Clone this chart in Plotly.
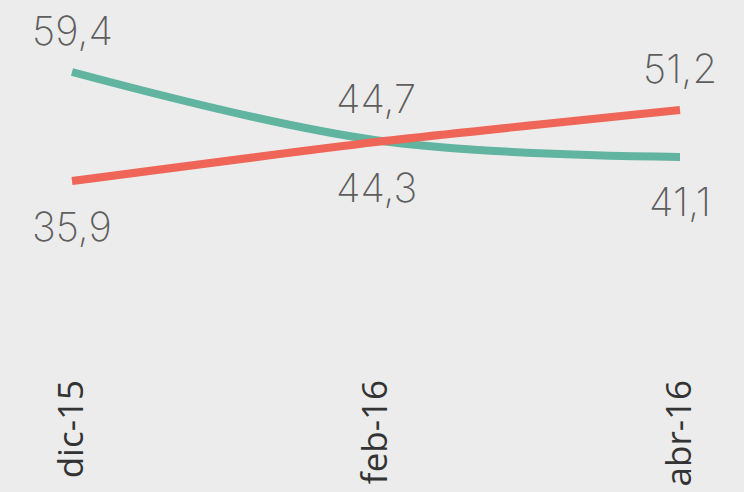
import plotly.graph_objects as go

months = ["dic-15", "feb-16", "abr-16"]
green_vals = [59.4, 44.7, 41.1]
red_vals = [35.9, 44.3, 51.2]
green_labels = ["59,4", "44,7", "41,1"]
red_labels = ["35,9", "44,3", "51,2"]

GREEN = "#60b4a0"
RED = "#ef6558"
BG = "#ececec"

fig = go.Figure()
fig.add_trace(go.Scatter(
    x=[0, 1, 2], y=green_vals, mode="lines",
    line=dict(color=GREEN, width=8, shape="spline", smoothing=1),
    hoverinfo="skip",
))
fig.add_trace(go.Scatter(
    x=[0, 1, 2], y=red_vals, mode="lines",
    line=dict(color=RED, width=8, shape="spline", smoothing=0.6),
    hoverinfo="skip",
))

# label above whichever series is higher at each month
for i in range(len(months)):
    for val, lab, other in ((green_vals[i], green_labels[i], red_vals[i]),
                            (red_vals[i], red_labels[i], green_vals[i])):
        above = val > other
        fig.add_annotation(
            x=i, y=val, text=lab, showarrow=False,
            yshift=42 if above else -45,
            font=dict(family="Inter", size=40, color="#5e5e5e", weight=200),
        )

fig.update_layout(
    width=744, height=492,
    paper_bgcolor=BG, plot_bgcolor=BG,
    margin=dict(l=0, r=0, t=0, b=120),
    showlegend=False,
    xaxis=dict(
        range=[-72 / 304, 2 + 64 / 304],
        tickmode="array", tickvals=[0, 1, 2], ticktext=months,
        tickangle=-90, showgrid=False, zeroline=False, showline=False,
        tickfont=dict(family="Open Sans", size=35, color="#333333"),
        automargin=False, ticks="",
    ),
    yaxis=dict(
        range=[59.4 - 300 / 4.64, 59.4 + 72 / 4.64],
        visible=False, showgrid=False, zeroline=False,
    ),
)

fig.write_html("out.html", config={"displayModeBar": False},
               post_script="document.body.style.margin='0';")
